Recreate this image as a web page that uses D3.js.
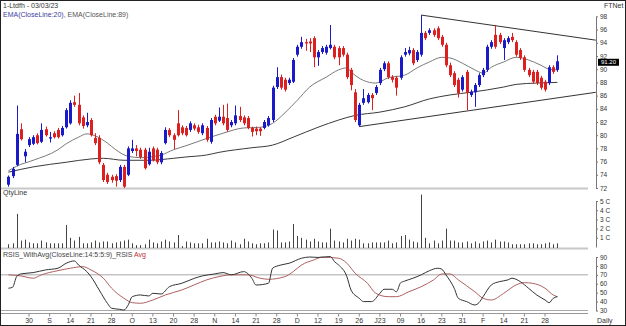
<!DOCTYPE html>
<html>
<head>
<meta charset="utf-8">
<script src="https://cdn.jsdelivr.net/npm/d3@7/dist/d3.min.js"></script>
<style>
body { margin: 0; background: #fff; }
svg text { font-family: "Liberation Sans", Arial, sans-serif; font-size: 7px; fill: #333; }
</style>
</head>
<body>
<script>
// daily candles, 23 Aug 2022 .. 03 Mar 2023 (bar index 0..133)
var opens = [72.5,73.8,75.5,80.9,76.8,78.5,78.7,80.0,79.0,80.9,79.5,80.3,80.8,80.0,81.2,81.8,85.0,84.6,82.7,81.5,
  82.3,79.6,79.6,75.5,74.0,73.7,73.8,73.2,75.2,74.0,77.6,78.0,77.8,77.8,75.6,78.0,77.8,75.9,78.8,80.8,
  80.0,81.8,81.2,81.1,80.8,81.5,81.2,80.3,81.1,79.0,82.8,82.2,82.8,82.6,81.5,81.8,82.9,82.7,82.6,81.1,
  81.0,81.0,81.1,81.5,82.3,87.3,88.8,88.4,87.9,88.1,92.2,93.4,94.1,94.2,94.7,91.8,92.6,92.5,93.2,93.4,
  93.2,93.2,92.2,89.9,86.5,81.5,84.9,85.0,86.1,86.4,87.9,90.0,90.9,88.8,88.7,88.7,92.2,92.4,92.9,91.4,
  92.2,95.5,95.5,95.9,96.2,94.9,93.7,90.6,89.4,88.4,86.9,89.6,86.1,86.5,87.6,89.1,89.9,93.4,95.2,95.2,
  93.2,94.1,94.9,94.1,92.9,91.8,89.9,89.6,89.6,88.7,88.1,87.9,90.3,89.9];
var highs = [73.9,75.2,84.5,81.8,77.9,79.7,80.0,80.3,81.8,81.3,80.5,80.6,81.1,81.4,84.1,85.3,86.0,86.4,83.0,83.4,
  82.6,80.3,80.0,75.8,74.3,74.0,74.1,75.5,75.5,78.3,79.3,78.5,78.1,78.1,78.1,78.3,78.1,77.6,81.2,81.1,
  80.3,83.8,81.5,81.4,82.1,81.8,81.6,81.8,81.4,82.6,83.1,84.2,84.6,84.8,82.3,84.5,84.3,83.0,82.9,81.3,
  81.3,81.2,82.3,82.9,87.5,90.3,89.2,88.7,88.7,91.7,93.7,94.9,94.6,94.7,95.0,92.9,93.5,93.7,96.7,93.7,
  93.5,93.5,92.5,90.2,87.0,84.9,87.0,86.4,86.4,87.6,90.2,91.2,91.2,89.1,89.0,92.1,93.2,93.4,93.2,92.9,
  98.2,95.8,96.2,96.2,96.5,95.2,94.0,91.0,89.7,88.7,89.1,89.9,86.9,87.9,89.4,90.2,93.7,94.4,96.7,95.5,
  94.7,95.0,95.5,94.4,93.2,92.1,90.2,89.9,89.9,89.0,88.4,90.6,90.6,92.1];
var lows = [72.2,73.5,75.3,79.2,75.9,78.2,78.5,78.6,78.8,79.8,78.9,79.5,79.5,79.8,81.0,81.6,84.3,81.5,81.0,81.2,
  79.8,78.5,75.6,72.9,72.6,72.8,72.2,72.9,72.0,73.8,77.3,76.8,76.4,74.8,75.4,76.0,75.6,75.6,78.6,79.7,
  77.9,79.8,80.0,79.8,80.5,80.7,80.2,80.0,79.0,78.7,81.5,82.0,81.5,80.5,81.2,81.5,82.0,81.5,80.9,79.8,
  80.0,79.9,80.9,81.3,82.0,87.0,86.9,86.6,87.6,87.9,91.9,93.1,92.8,92.6,90.3,90.5,92.3,92.2,93.0,91.5,
  90.6,91.9,88.5,86.8,82.0,81.3,84.6,84.8,83.8,86.1,87.6,89.7,88.5,88.0,86.0,88.4,91.9,92.1,90.6,91.1,
  91.9,94.4,95.2,94.9,94.4,93.4,90.3,88.8,87.3,85.7,86.6,83.8,85.8,84.3,87.3,88.8,89.6,93.1,93.1,93.8,
  91.4,93.8,94.1,91.9,91.4,89.6,88.8,87.8,87.6,86.9,86.6,87.6,89.3,89.6];
var closes = [73.7,74.9,80.2,79.4,77.5,79.4,79.7,78.8,80.8,80.0,79.7,79.7,79.7,81.1,83.8,84.9,84.6,81.8,81.4,82.0,
  80.0,78.8,75.9,73.2,72.9,73.2,73.1,75.2,72.2,78.0,78.0,77.6,76.7,75.0,77.5,76.2,75.9,77.3,80.8,80.0,
  79.3,80.0,80.3,80.0,81.8,81.0,80.5,81.5,79.3,82.3,81.8,82.8,81.8,80.8,82.0,83.0,82.3,81.8,81.1,80.5,
  80.6,80.6,82.0,82.6,87.2,88.8,87.2,86.9,88.4,91.4,93.4,94.1,93.9,93.9,91.8,92.6,93.2,93.4,93.7,91.8,
  91.8,92.2,88.8,87.6,82.3,84.6,85.6,86.1,85.6,87.3,89.9,90.9,88.8,88.4,87.2,91.8,92.6,92.9,90.9,92.6,
  95.5,94.7,95.9,95.2,94.7,93.7,90.6,89.1,87.6,86.4,88.8,86.4,86.6,87.6,89.1,89.9,93.4,94.1,93.4,94.1,
  94.4,94.7,94.4,92.2,91.7,89.9,89.1,88.1,87.9,87.2,86.9,90.3,89.6,91.2];
// traded quantity, crores
var volumes = [0.3,0.4,3.6,0.7,0.8,0.5,0.4,0.4,0.7,0.5,0.4,0.4,0.4,0.4,2.4,1.0,0.7,1.1,0.4,0.4,
  0.5,0.7,0.5,0.6,0.6,0.4,0.5,0.6,0.7,0.8,0.4,0.2,0.2,0.3,0.8,0.5,0.4,0.6,0.8,0.6,
  0.5,1.3,0.1,0.6,0.5,0.4,0.4,0.4,0.9,0.5,0.5,0.6,0.5,0.4,0.7,0.5,0.3,0.9,0.6,0.4,
  0.3,0.4,0.4,0.5,1.9,1.8,0.5,0.5,0.6,2.5,1.2,1.0,0.8,0.6,0.9,0.6,0.5,0.5,2.0,0.7,
  0.6,0.5,0.9,0.7,0.9,0.8,0.4,0.4,0.5,0.5,0.5,0.5,0.7,0.4,0.5,1.2,1.3,0.8,0.6,0.5,
  5.7,1.0,0.4,0.7,0.4,0.7,2.0,0.7,0.7,0.5,0.5,0.6,0.4,0.6,0.4,0.6,0.7,0.5,0.8,0.6,
  0.6,0.5,0.3,0.3,0.3,0.3,0.4,0.4,0.3,0.3,0.4,0.5,0.3,0.4];
// indicator lines: [bar index, value]
var ema20 = [[0,74.6],[2,75.3],[6,76.2],[12,77.8],[14,78.7],[17,79.7],[19,80.2],[21,79.9],[24,78.8],[26,77.8],
  [29,76.8],[32,76.6],[37,77.0],[40,77.8],[43,78.4],[48,79.5],[52,80.3],[57,81.1],[61,81.2],[64,81.8],
  [67,83.4],[70,85.3],[73,87.3],[77,88.8],[80,89.9],[82,90.2],[83,89.6],[86,88.3],[89,87.9],[92,88.7],
  [96,89.1],[99,90.2],[102,91.1],[105,91.8],[107,91.7],[110,90.9],[113,89.9],[115,89.4],[117,90.3],[120,91.1],
  [123,91.8],[126,91.4],[129,90.6],[131,90.0],[133,89.9]];
var ema89 = [[0,74.4],[6,75.2],[14,75.9],[20,76.4],[23,76.5],[28,76.2],[34,76.2],[40,76.5],[43,76.7],[48,77.0],
  [51,77.4],[59,78.1],[64,78.5],[69,79.7],[75,81.2],[80,82.3],[84,83.0],[90,83.5],[96,84.3],[102,85.5],
  [107,86.1],[112,86.5],[120,87.3],[123,87.7],[128,87.9],[133,88.0]];
var rsis = [[0,55],[1,56],[2,68],[3,71],[6,72.5],[9,75.5],[12,77.4],[14,83],[16,85.6],[17,81],
  [19,73.6],[20,68],[22,53],[24,38],[25,32.5],[27,31.3],[28,30.5],[29,36],[30,45.5],[32,47.4],
  [34,46.3],[35,49.3],[37,48.5],[39,56.7],[42,60.5],[45,66],[47,68.8],[50,71],[52,72.5],[54,70],
  [57,73.6],[59,66],[60,58.6],[63,60.5],[64,77.4],[66,81],[68,83],[71,88.6],[73,90],[75,89.5],
  [78,90.5],[79,84.8],[80,81],[82,68],[83,53],[85,43.7],[86,40],[88,40],[90,49.3],[91,53.8],
  [93,53.8],[94,51],[95,61],[96,63],[98,66.2],[100,70],[102,74.7],[104,77.4],[105,76.3],[106,70],
  [108,55],[109,43.7],[111,40],[113,36.2],[114,38.8],[115,45.5],[117,58.7],[119,62.4],[121,64.3],[122,66.2],
  [124,62.4],[126,55],[128,47.4],[130,41.8],[131,38.8],[132,43.7],[133,45.5]];
var rsiAvg = [[0,70],[3,68.8],[6,66.2],[8,70],[12,74.7],[15,77.4],[18,79.2],[20,75.5],[23,66.2],[25,55],
  [28,43.7],[30,38.8],[32,38.1],[35,41.8],[38,47.4],[42,53],[45,58.7],[48,64.3],[51,68],[54,70],
  [58,70],[61,66.2],[63,65],[67,68],[69,73.6],[71,81],[74,86.7],[76,89.8],[80,88.6],[82,83],
  [84,71.8],[87,60.5],[89,49.3],[92,45.5],[94,45.5],[97,51],[100,56.7],[103,64.3],[105,71],[107,71],
  [109,64.3],[113,51],[115,43.7],[117,41.8],[120,49.3],[123,58.7],[125,61.2],[127,60.5],[130,55],[132,47.4],
  [133,45.5]];
// drawn trend lines: [bar index, price]
var trendUpper = [[100,98.2],[142.3,94.4]];
var trendLower = [[85,81.3],[142.3,86.5]];
// date labels sit on every 5th bar starting at bar 5
var dateLabels = ["30","S","14","21","28","O","13","20","28","N","14","21","28","D","12","19","26","J23","09","16","23","31","F","14","21","28"];
var priceTicks = [72,74,76,78,80,82,84,86,88,90,92,94,96,98];
var qtyTicks = [1,2,3,4,5];
var rsiTicks = [30,40,50,60,70,80,90];
var lastPrice = 91.20;

var svgWidth = 626;
var svgHeight = 326;
var axisX = 596;

var svg = d3.select("body").append("svg")
    .attr("width", svgWidth)
    .attr("height", svgHeight);

var xScale = d3.scaleLinear().domain([0, 133]).range([8.4, 557.4]);
var yPrice = d3.scaleLinear().domain([72, 98]).range([188, 16.4]);
var yQty = d3.scaleLinear().domain([0, 5]).range([247, 201]);
var yRsi = d3.scaleLinear().domain([30, 90]).range([310.5, 257]);

// frame
svg.append("rect")
    .attr("x", 0.5).attr("y", 0.5)
    .attr("width", svgWidth - 1).attr("height", svgHeight - 1)
    .attr("fill", "none").attr("stroke", "#222");

// panel separators
[188.5, 248.5].forEach(function(y) {
    svg.append("line")
        .attr("x1", 1).attr("x2", 588).attr("y1", y).attr("y2", y)
        .attr("stroke", "#c8c8c8").attr("stroke-width", 2);
});

// headings
svg.append("text").attr("x", 3).attr("y", 8).text("1-Ltdfh - 03/03/23");
var leg = svg.append("text").attr("x", 3).attr("y", 17);
leg.append("tspan").style("fill", "#3c3ca0").text("EMA(CloseLine:20), ");
leg.append("tspan").style("fill", "#555").text("EMA(CloseLine:89)");
svg.append("text").attr("x", 604).attr("y", 8).text("FTNet");
svg.append("text").attr("x", 3).attr("y", 195).text("QtyLine");
var rl = svg.append("text").attr("x", 3).attr("y", 257);
rl.append("tspan").style("fill", "#444").text("RSIS_WithAvg(CloseLine:14:5:5:9)_RSIS ");
rl.append("tspan").style("fill", "#c03030").text("Avg");

//---------------------------------------------------
// price panel
var lineFn = function(yS) {
    return d3.line()
        .x(function(d) { return xScale(d[0]); })
        .y(function(d) { return yS(d[1]); })
        .curve(d3.curveMonotoneX);
};
svg.append("path").datum(ema89).attr("d", lineFn(yPrice))
    .attr("fill", "none").attr("stroke", "#3a3a3a").attr("stroke-width", 1);
svg.append("path").datum(ema20).attr("d", lineFn(yPrice))
    .attr("fill", "none").attr("stroke", "#7a7a7a").attr("stroke-width", 1);

[trendUpper, trendLower].forEach(function(t) {
    svg.append("line")
        .attr("x1", xScale(t[0][0])).attr("y1", yPrice(t[0][1]))
        .attr("x2", xScale(t[1][0])).attr("y2", yPrice(t[1][1]))
        .attr("stroke", "#333").attr("stroke-width", 1);
});

var candles = svg.append("g").selectAll("g")
    .data(closes)
    .enter().append("g");
candles.append("line")
    .attr("x1", function(d, i) { return Math.round(xScale(i)) + 0.5; })
    .attr("x2", function(d, i) { return Math.round(xScale(i)) + 0.5; })
    .attr("y1", function(d, i) { return yPrice(highs[i]); })
    .attr("y2", function(d, i) { return yPrice(lows[i]); })
    .attr("stroke", function(d, i) { return d >= opens[i] ? "#1a1ac8" : "#dc2020"; })
    .attr("stroke-width", 1);
candles.append("rect")
    .attr("x", function(d, i) { return Math.round(xScale(i)) - 1; })
    .attr("width", 3)
    .attr("y", function(d, i) { return yPrice(Math.max(d, opens[i])); })
    .attr("height", function(d, i) { return Math.max(1, Math.abs(yPrice(d) - yPrice(opens[i]))); })
    .attr("fill", function(d, i) { return d >= opens[i] ? "#1a1ac8" : "#dc2020"; });

// right axes
function styleAxis(g) {
    g.select(".domain").attr("stroke", "#777");
    g.selectAll(".tick line").attr("stroke", "#777");
    g.selectAll(".tick text").style("font-size", "6.5px").style("fill", "#333");
}
svg.append("g")
    .attr("transform", "translate(" + axisX + ",0)")
    .call(d3.axisRight(yPrice).tickValues(priceTicks).tickSize(2).tickSizeOuter(0).tickPadding(2))
    .call(styleAxis);
// last price tag
svg.append("rect")
    .attr("x", 598).attr("y", yPrice(lastPrice) - 2.5)
    .attr("width", 21).attr("height", 7)
    .attr("fill", "#000");
svg.append("text")
    .attr("x", 608.5).attr("y", yPrice(lastPrice) + 3.2)
    .attr("text-anchor", "middle")
    .style("fill", "#fff")
    .style("font-size", "6px")
    .text(lastPrice.toFixed(2));

//---------------------------------------------------
// quantity panel
svg.append("g").selectAll("line")
    .data(volumes)
    .enter().append("line")
    .attr("x1", function(d, i) { return Math.round(xScale(i)) + 0.5; })
    .attr("x2", function(d, i) { return Math.round(xScale(i)) + 0.5; })
    .attr("y1", yQty(0) + 1)
    .attr("y2", function(d) { return yQty(d); })
    .attr("stroke", "#444").attr("stroke-width", 1);
svg.append("g")
    .attr("transform", "translate(" + axisX + ",0)")
    .call(d3.axisRight(yQty).tickValues(qtyTicks).tickSize(2).tickSizeOuter(0).tickPadding(2)
        .tickFormat(function(d) { return d + " C"; }))
    .call(styleAxis);

//---------------------------------------------------
// RSI panel
[70, 30].forEach(function(v) {
    svg.append("line")
        .attr("x1", 1).attr("x2", 588).attr("y1", yRsi(v)).attr("y2", yRsi(v))
        .attr("stroke", "#a8a8a8").attr("stroke-width", 1);
});
svg.append("line")
    .attr("x1", 1).attr("x2", 588).attr("y1", 313.5).attr("y2", 313.5)
    .attr("stroke", "#999").attr("stroke-width", 1);
svg.append("path").datum(rsiAvg).attr("d", lineFn(yRsi))
    .attr("fill", "none").attr("stroke", "#b06060").attr("stroke-width", 1);
svg.append("path").datum(rsis).attr("d", lineFn(yRsi))
    .attr("fill", "none").attr("stroke", "#333").attr("stroke-width", 1);
svg.append("g")
    .attr("transform", "translate(" + axisX + ",0)")
    .call(d3.axisRight(yRsi).tickValues(rsiTicks).tickSize(2).tickSizeOuter(0).tickPadding(2))
    .call(styleAxis);

// date axis
var dates = svg.append("g").selectAll("g")
    .data(dateLabels)
    .enter().append("g")
    .attr("transform", function(d, k) { return "translate(" + xScale(5 + k * 5) + ",0)"; });
dates.append("line")
    .attr("y1", 313.5).attr("y2", 316.5)
    .attr("stroke", "#888");
dates.append("text")
    .attr("y", 323)
    .attr("text-anchor", "middle")
    .text(function(d) { return d; });
svg.append("text").attr("x", 597).attr("y", 323).text("Daily");
</script>
</body>
</html>
